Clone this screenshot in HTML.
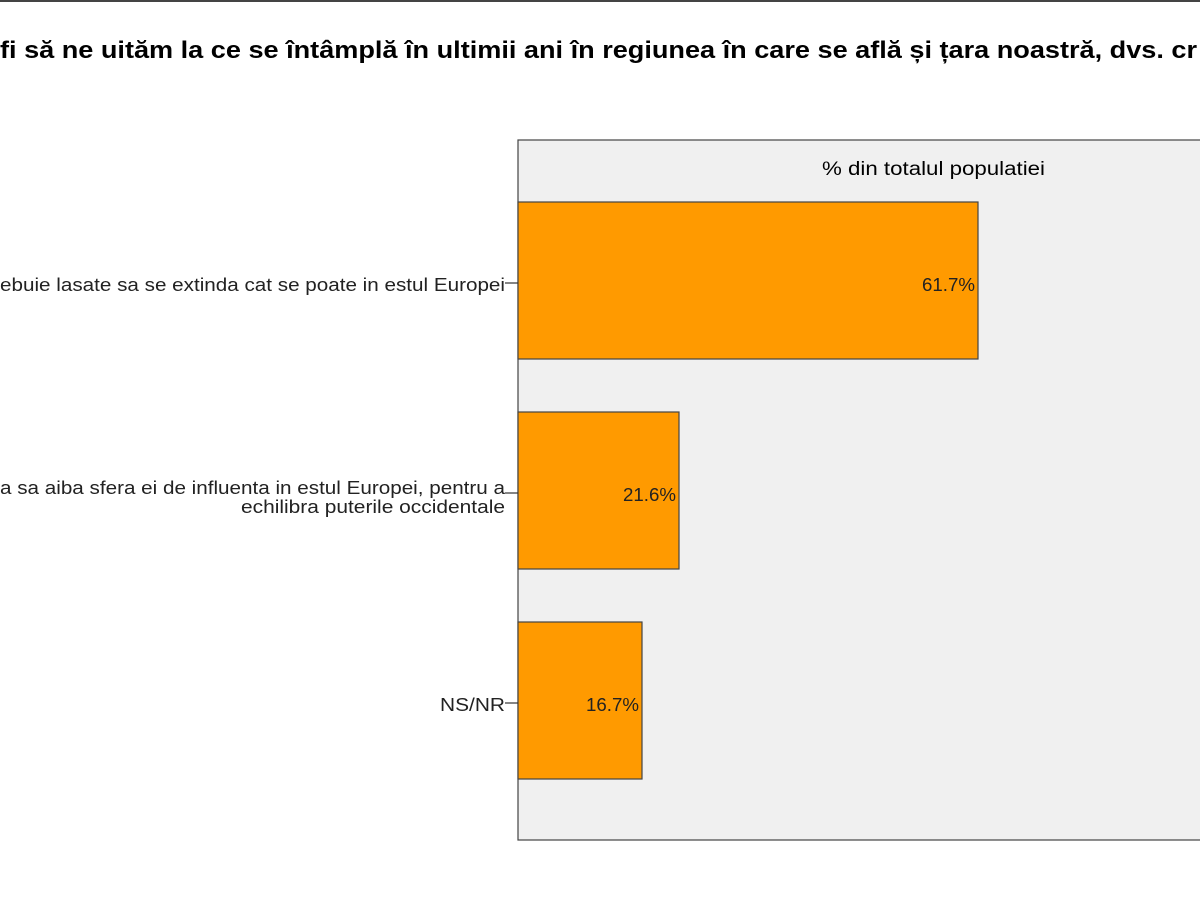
<!DOCTYPE html>
<html><head><meta charset="utf-8"><style>html,body{margin:0;padding:0;background:#fff;width:1200px;height:900px;overflow:hidden}</style></head>
<body>
<svg width="1200" height="900" xmlns="http://www.w3.org/2000/svg" font-family="Liberation Sans, sans-serif">
<rect x="0" y="0" width="1200" height="2" fill="#444"/>
<text x="0" y="58" font-size="24" font-weight="bold" textLength="1197" lengthAdjust="spacingAndGlyphs" fill="#000">fi să ne uităm la ce se întâmplă în ultimii ani în regiunea în care se află și țara noastră, dvs. cr</text>
<rect x="518" y="140" width="700" height="700" fill="#f0f0f0" stroke="#444" stroke-width="1.2"/>
<text x="822" y="175" font-size="19" textLength="223" lengthAdjust="spacingAndGlyphs" fill="#000">% din totalul populatiei</text>
<g fill="#ff9a00" stroke="#444" stroke-width="1.2">
<rect x="518" y="202" width="460" height="157"/>
<rect x="518" y="412" width="161" height="157"/>
<rect x="518" y="622" width="124" height="157"/>
</g>
<g stroke="#333" stroke-width="1.2">
<line x1="505" y1="283" x2="518" y2="283"/>
<line x1="505" y1="493" x2="518" y2="493"/>
<line x1="505" y1="703" x2="518" y2="703"/>
</g>
<g font-size="18" fill="#222">
<text x="0" y="291" textLength="505" lengthAdjust="spacingAndGlyphs">ebuie lasate sa se extinda cat se poate in estul Europei</text>
<text x="0" y="494" textLength="505" lengthAdjust="spacingAndGlyphs">a sa aiba sfera ei de influenta in estul Europei, pentru a</text>
<text x="241" y="513" textLength="264" lengthAdjust="spacingAndGlyphs">echilibra puterile occidentale</text>
<text x="440" y="711" textLength="65" lengthAdjust="spacingAndGlyphs">NS/NR</text>
<text x="922" y="291" textLength="53" lengthAdjust="spacingAndGlyphs">61.7%</text>
<text x="623" y="501" textLength="53" lengthAdjust="spacingAndGlyphs">21.6%</text>
<text x="586" y="711" textLength="53" lengthAdjust="spacingAndGlyphs">16.7%</text>
</g>
</svg>
</body></html>
